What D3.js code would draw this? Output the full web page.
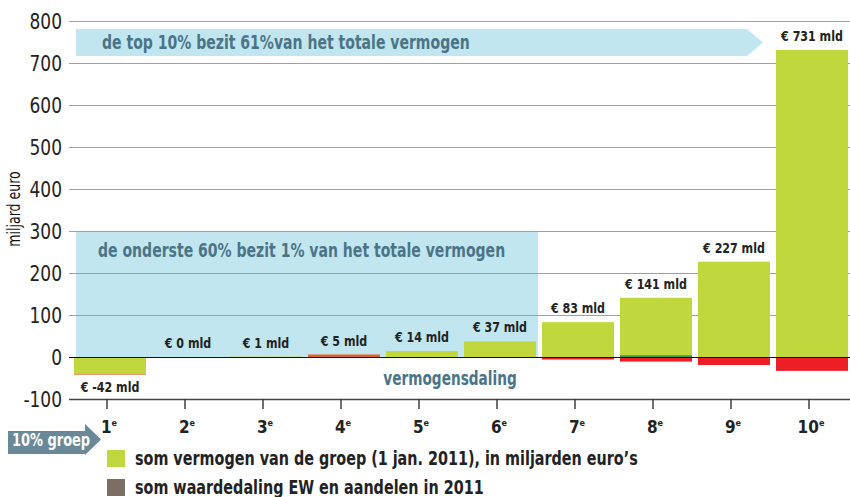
<!DOCTYPE html>
<html>
<head>
<meta charset="utf-8">
<script src="https://cdn.jsdelivr.net/npm/d3@7"></script>
<style>
  body { margin: 0; background: #fff; }
  svg { display: block; font-family: "DejaVu Sans Condensed", "Liberation Sans Narrow", "Roboto", sans-serif; }
</style>
</head>
<body>
<svg id="chart" width="850" height="497"></svg>
<script>
const groups = ["1", "2", "3", "4", "5", "6", "7", "8", "9", "10"];
const wealth = [-40, 0, 1, 0, 14, 37, 83, 141, 227, 731];
const wealthLabels = [-42, 0, 1, 5, 14, 37, 83, 141, 227, 731];
const decline = [0, 0, 0, 0, 0, 0, -6, -11, -19, -33];
const extraMarks = [
  { group: "1", from: -40, to: -42, kind: "orange" },
  { group: "4", from: 0, to: 6, kind: "orange" },
  { group: "8", from: 0, to: 4, kind: "dark" },
];
const yTicks = [-100, 0, 100, 200, 300, 400, 500, 600, 700, 800];
const legendItems = [
  "som vermogen  van de groep (1 jan. 2011), in miljarden euro\u2019s",
  "som waardedaling EW en aandelen in 2011",
];

const colors = {
  green: "#c0d73d",
  red: "#ec1f27",
  orange: "#e0622b",
  dark: "#3b9a37",
  brown: "#7b6f63",
  panel: "#c2e6ef",
  panelText: "#4b7487",
  tag: "#6a8998",
};

// squeeze text horizontally, the reference uses a condensed face
function condense(sel, factor) {
  sel.each(function () {
    const len = this.getComputedTextLength();
    d3.select(this)
      .attr("textLength", len * factor)
      .attr("lengthAdjust", "spacingAndGlyphs");
  });
  return sel;
}

const svg = d3.select("#chart");
const width = 850;

const y = d3.scaleLinear().domain([-100, 800]).range([399, 21]);
const x = d3.scaleBand().domain(groups).range([71, 851]).paddingInner(0.077).paddingOuter(0.0385);
const gridLeft = 69;

// blue panels behind the bars
const topBanner = svg.append("g");
const bx0 = 76, bx1 = 747, btip = 763, by0 = 29, by1 = 56;
topBanner.append("path")
  .attr("d", `M${bx0},${by0}H${bx1}L${btip},${(by0 + by1) / 2}L${bx1},${by1}H${bx0}Z`)
  .attr("fill", colors.panel);
condense(topBanner.append("text")
  .attr("x", 102).attr("y", 49)
  .attr("font-size", 20).attr("font-weight", "bold")
  .attr("fill", colors.panelText)
  .text("de top 10% bezit 61%van het totale vermogen"), 0.78);

svg.append("rect")
  .attr("x", 76).attr("y", y(300))
  .attr("width", 538 - 76).attr("height", y(0) - y(300))
  .attr("fill", colors.panel);
condense(svg.append("text")
  .attr("x", 98).attr("y", 257)
  .attr("font-size", 20).attr("font-weight", "bold")
  .attr("fill", colors.panelText)
  .text("de onderste 60% bezit 1% van het totale vermogen"), 0.78);

// grid
svg.append("g")
  .selectAll("line")
  .data(yTicks.filter((d) => d !== 0 && d !== -100))
  .join("line")
  .attr("x1", gridLeft).attr("x2", width)
  .attr("y1", (d) => y(d) + 0.5).attr("y2", (d) => y(d) + 0.5)
  .attr("stroke", "#a0a0a0").attr("stroke-width", 1.2);

// y tick labels
condense(svg.append("g")
  .selectAll("text")
  .data(yTicks)
  .join("text")
  .attr("x", 62).attr("y", (d) => y(d))
  .attr("dy", "0.36em")
  .attr("text-anchor", "end")
  .attr("font-size", 21)
  .attr("fill", "#222")
  .text((d) => d), 0.9);

condense(svg.append("text")
  .attr("transform", `translate(20,209) rotate(-90)`)
  .attr("text-anchor", "middle")
  .attr("font-size", 17)
  .attr("fill", "#111")
  .text("miljard euro"), 0.82);

// bars
svg.append("g")
  .selectAll("rect")
  .data(groups)
  .join("rect")
  .attr("x", (d) => x(d))
  .attr("width", x.bandwidth())
  .attr("y", (d, i) => y(Math.max(0, wealth[i])))
  .attr("height", (d, i) => Math.abs(y(wealth[i]) - y(0)))
  .attr("fill", colors.green);

svg.append("g")
  .selectAll("rect")
  .data(groups)
  .join("rect")
  .attr("x", (d) => x(d))
  .attr("width", x.bandwidth())
  .attr("y", y(0))
  .attr("height", (d, i) => y(decline[i]) - y(0))
  .attr("fill", colors.red);

svg.append("g")
  .selectAll("rect")
  .data(extraMarks)
  .join("rect")
  .attr("x", (d) => x(d.group))
  .attr("width", x.bandwidth())
  .attr("y", (d) => y(Math.max(d.from, d.to)))
  .attr("height", (d) => Math.abs(y(d.from) - y(d.to)))
  .attr("fill", (d) => colors[d.kind]);

// zero line and bottom axis
svg.append("line")
  .attr("x1", gridLeft).attr("x2", width)
  .attr("y1", y(0) + 0.5).attr("y2", y(0) + 0.5)
  .attr("stroke", "#111").attr("stroke-width", 1.2);

const xAxis = svg.append("g").attr("transform", `translate(0,${y(-100)})`);
xAxis.append("line")
  .attr("x1", gridLeft).attr("x2", width)
  .attr("y1", 0.5).attr("y2", 0.5)
  .attr("stroke", "#444").attr("stroke-width", 1.6);
xAxis.selectAll(".tick")
  .data(groups)
  .join("line")
  .attr("class", "tick")
  .attr("x1", (d) => x(d) + x.bandwidth() / 2 - 3)
  .attr("x2", (d) => x(d) + x.bandwidth() / 2 - 3)
  .attr("y1", 0).attr("y2", 10)
  .attr("stroke", "#333").attr("stroke-width", 1.4);

const xLabels = xAxis.selectAll(".xlab")
  .data(groups)
  .join("text")
  .attr("class", "xlab")
  .attr("x", (d) => x(d) + x.bandwidth() / 2 - 1)
  .attr("y", 34)
  .attr("text-anchor", "middle")
  .attr("font-size", 17)
  .attr("font-weight", "bold")
  .attr("fill", "#222");
xLabels.append("tspan").text((d) => d);
xLabels.append("tspan")
  .attr("font-size", 9)
  .attr("dy", -7)
  .text("e");

// value labels
condense(svg.append("g")
  .selectAll("text")
  .data(groups)
  .join("text")
  .attr("x", (d) => x(d) + x.bandwidth() / 2)
  .attr("y", (d, i) => wealthLabels[i] < 0
    ? y(wealthLabels[i]) + 17
    : Math.min(y(wealthLabels[i]) - 9, y(0) - 7))
  .attr("text-anchor", "middle")
  .attr("font-size", 14)
  .attr("font-weight", "bold")
  .attr("fill", "#222")
  .text((d, i) => `\u20ac ${wealthLabels[i]} mld`), 0.88);

condense(svg.append("text")
  .attr("x", 450).attr("y", 385)
  .attr("text-anchor", "middle")
  .attr("font-size", 19)
  .attr("font-weight", "bold")
  .attr("fill", colors.panelText)
  .text("vermogensdaling"), 0.8);

// "10% groep" tag
const tag = svg.append("g");
tag.append("path")
  .attr("d", "M8,431H85V424L101,439.5L85,455V454H8Z")
  .attr("fill", colors.tag);
condense(tag.append("text")
  .attr("x", 12).attr("y", 446)
  .attr("font-size", 18).attr("font-weight", "bold")
  .attr("fill", "#fff")
  .text("10% groep"), 0.8);

// legend
const legend = svg.append("g")
  .selectAll("g")
  .data(legendItems)
  .join("g")
  .attr("transform", (d, i) => `translate(107,${450 + i * 29})`);
legend.append("rect")
  .attr("width", 18).attr("height", 17)
  .attr("fill", (d, i) => (i === 0 ? colors.green : colors.brown));
condense(legend.append("text")
  .attr("x", 28).attr("y", 15)
  .attr("font-size", 19).attr("font-weight", "bold")
  .attr("fill", "#222")
  .text((d) => d), 0.84);
</script>
</body>
</html>
